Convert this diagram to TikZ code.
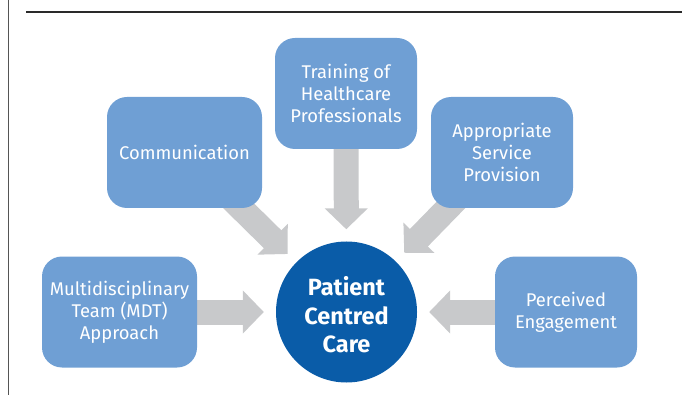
\documentclass[tikz,border=0pt]{standalone}
\usepackage{fontspec}
\setmainfont{Fira Sans}
\usetikzlibrary{arrows.meta,backgrounds}
\definecolor{boxblue}{RGB}{111,159,212}
\definecolor{coreblue}{RGB}{10,92,168}
\definecolor{arrowgrey}{RGB}{200,201,203}
\definecolor{ruledark}{RGB}{42,42,42}
\definecolor{rulegrey}{RGB}{85,85,85}
\tikzset{
  factor/.style={draw=none, fill=boxblue, rounded corners=20pt, text=white,
    align=center, inner sep=0pt, font=\fontsize{18.4}{22}\selectfont},
  core/.style={circle, fill=coreblue, inner sep=0pt, minimum size=141pt},
  coretext/.style={text=white, align=center, inner sep=0pt,
    font=\bfseries\fontsize{23.5}{28.5}\selectfont},
  blockarrow/.style={draw=arrowgrey, line width=25pt, line cap=butt,
    -{Triangle[length=21pt, width=42pt, fill=arrowgrey]}, shorten >=12pt},
}
\begin{document}
\begin{tikzpicture}[x=1pt, y=-1pt]
  \useasboundingbox (0,0) rectangle (682,395);
  % page rules
  \draw[ruledark, line width=2pt] (26,12.5) -- (682,12.5);
  \draw[rulegrey, line width=1.3pt] (8.7,0) -- (8.7,395);
  % central concept
  \node[core] (pcc) at (346.5,312) {};
  \node[coretext] (pcclabel) at ([yshift=-3pt]pcc.center) {Patient\\Centred\\Care};
  % contributing factors
  \node[factor, minimum width=142pt, minimum height=111pt] (train) at (346,93.5)
    {Training of\\Healthcare\\Professionals};
  \node[factor, minimum width=155pt, minimum height=111pt] (comm) at (184.5,152.5)
    {Communication};
  \node[factor, minimum width=142pt, minimum height=111pt] (serv) at (502,152.5)
    {Appropriate\\Service\\Provision};
  \node[factor, minimum width=155pt, minimum height=111pt] (mdt) at (119.5,312)
    {Multidisciplinary\\Team (MDT)\\Approach};
  \node[factor, minimum width=142pt, minimum height=111pt] (eng) at (566,312)
    {Perceived\\Engagement};
  % grey block arrows pointing into the core
  \begin{scope}[on background layer]
    \draw[blockarrow] (train.center) -- (pcc);
    \draw[blockarrow] (comm.center) -- (pcc);
    \draw[blockarrow] (serv.center) -- (pcc);
    \draw[blockarrow] (mdt.center) -- (pcc);
    \draw[blockarrow] (eng.center) -- (pcc);
  \end{scope}
\end{tikzpicture}
\end{document}
